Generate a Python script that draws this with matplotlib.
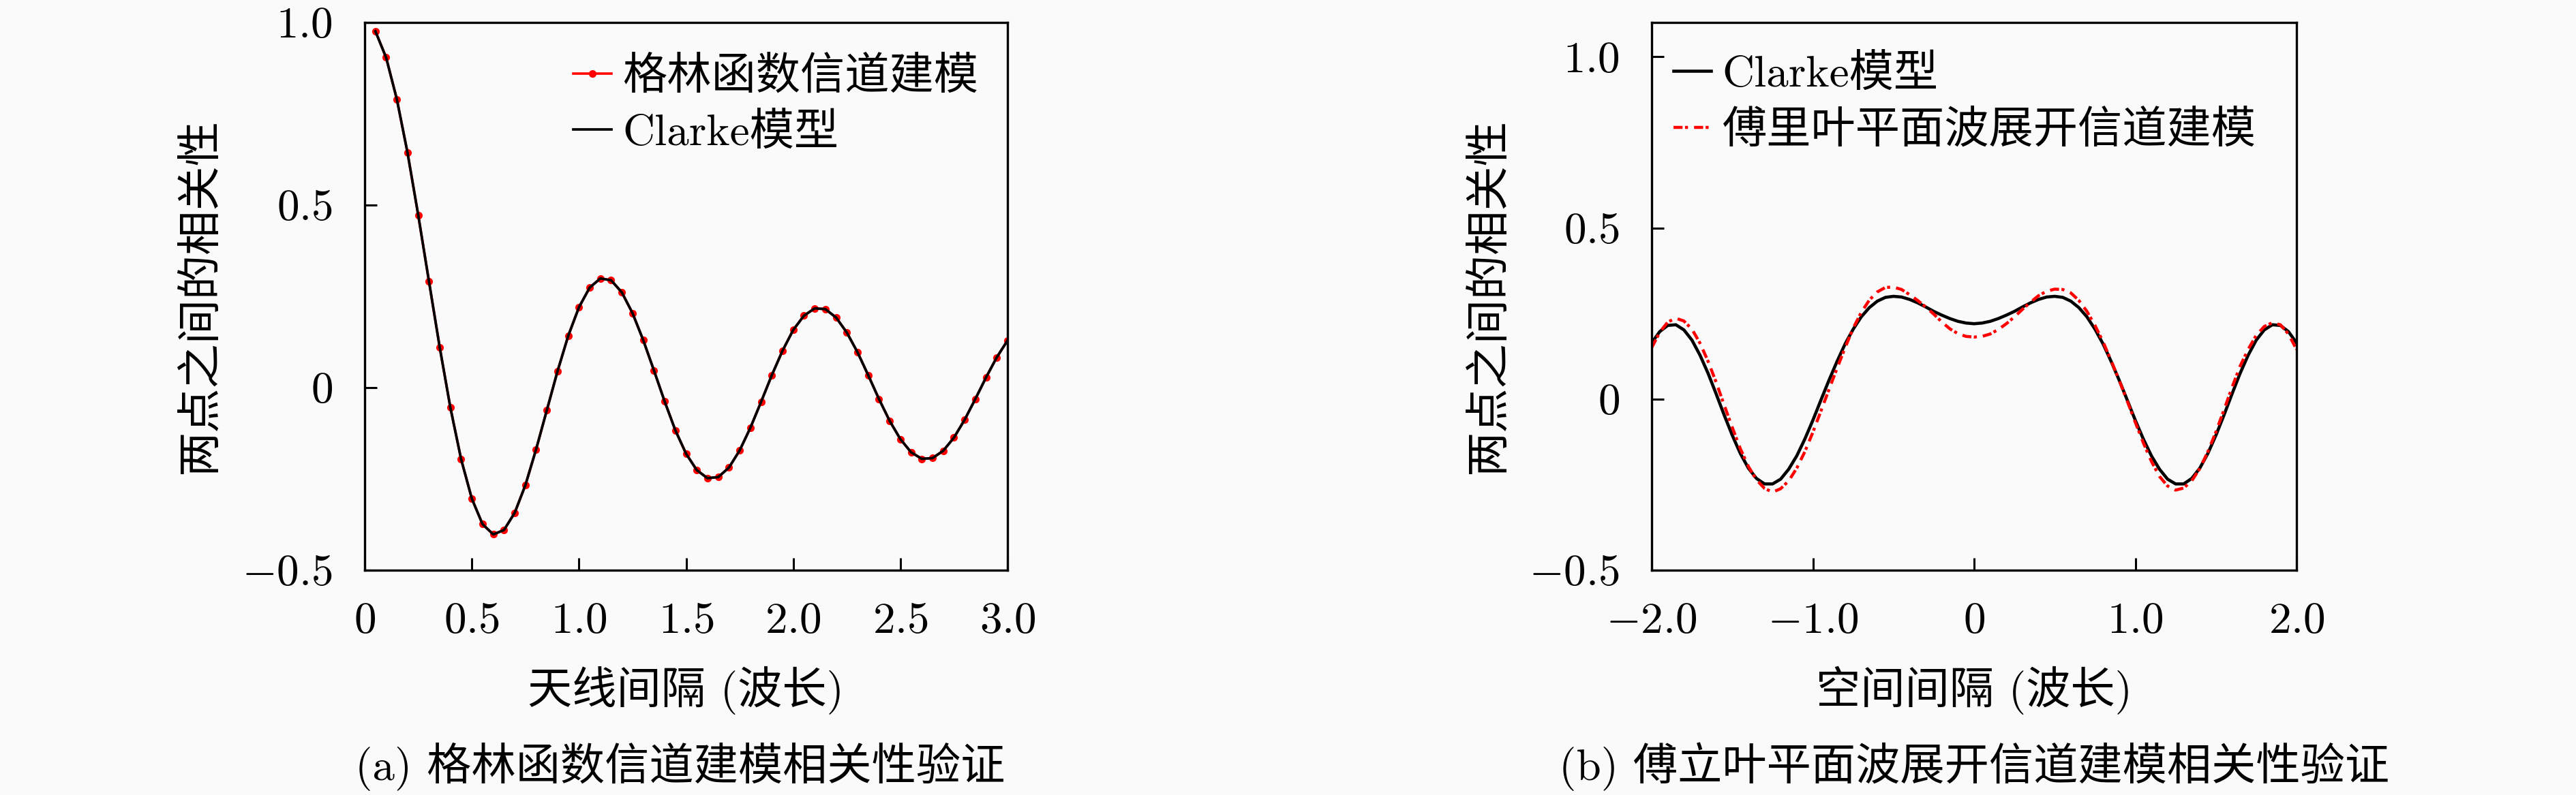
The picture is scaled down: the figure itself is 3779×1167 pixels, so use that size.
import matplotlib
matplotlib.use("Agg")
import matplotlib.pyplot as plt

# ── DATA ──────────────────────────────────────────────────────────────────────

# (a) antenna spacing in wavelengths, sampled every 0.05
spacing_a = [0.05, 0.10, 0.15, 0.20, 0.25, 0.30, 0.35, 0.40, 0.45, 0.50,
             0.55, 0.60, 0.65, 0.70, 0.75, 0.80, 0.85, 0.90, 0.95, 1.00,
             1.05, 1.10, 1.15, 1.20, 1.25, 1.30, 1.35, 1.40, 1.45, 1.50,
             1.55, 1.60, 1.65, 1.70, 1.75, 1.80, 1.85, 1.90, 1.95, 2.00,
             2.05, 2.10, 2.15, 2.20, 2.25, 2.30, 2.35, 2.40, 2.45, 2.50,
             2.55, 2.60, 2.65, 2.70, 2.75, 2.80, 2.85, 2.90, 2.95, 3.00]

clarke_a = [0.976, 0.904, 0.790, 0.643, 0.472, 0.291, 0.111, -0.055, -0.196, -0.304,
            -0.374, -0.402, -0.390, -0.343, -0.267, -0.169, -0.062, 0.045, 0.142, 0.220,
            0.274, 0.299, 0.294, 0.261, 0.204, 0.130, 0.047, -0.038, -0.117, -0.181,
            -0.226, -0.248, -0.245, -0.219, -0.172, -0.110, -0.039, 0.034, 0.101, 0.158,
            0.197, 0.217, 0.215, 0.192, 0.151, 0.097, 0.034, -0.031, -0.091, -0.141,
            -0.177, -0.195, -0.193, -0.173, -0.137, -0.088, -0.031, 0.028, 0.083, 0.129]

# Green's-function markers sit right on the Clarke curve
green_a = list(clarke_a)

# (b) spatial separation in wavelengths, -2 .. 2 every 0.05
spacing_b = [-2.00, -1.95, -1.90, -1.85, -1.80, -1.75, -1.70, -1.65, -1.60, -1.55,
             -1.50, -1.45, -1.40, -1.35, -1.30, -1.25, -1.20, -1.15, -1.10, -1.05,
             -1.00, -0.95, -0.90, -0.85, -0.80, -0.75, -0.70, -0.65, -0.60, -0.55,
             -0.50, -0.45, -0.40, -0.35, -0.30, -0.25, -0.20, -0.15, -0.10, -0.05,
             0.00,
             0.05, 0.10, 0.15, 0.20, 0.25, 0.30, 0.35, 0.40, 0.45, 0.50,
             0.55, 0.60, 0.65, 0.70, 0.75, 0.80, 0.85, 0.90, 0.95, 1.00,
             1.05, 1.10, 1.15, 1.20, 1.25, 1.30, 1.35, 1.40, 1.45, 1.50,
             1.55, 1.60, 1.65, 1.70, 1.75, 1.80, 1.85, 1.90, 1.95, 2.00]

clarke_b = [0.164, 0.197, 0.215, 0.217, 0.202, 0.172, 0.128, 0.075, 0.015, -0.047,
            -0.106, -0.159, -0.202, -0.232, -0.248, -0.248, -0.234, -0.205, -0.166, -0.117,
            -0.062, -0.003, 0.055, 0.110, 0.161, 0.204, 0.240, 0.267, 0.286, 0.297,
            0.300, 0.298, 0.291, 0.281, 0.269, 0.256, 0.245, 0.235, 0.227, 0.222,
            0.220,
            0.222, 0.227, 0.235, 0.245, 0.256, 0.269, 0.281, 0.291, 0.298, 0.300,
            0.297, 0.286, 0.267, 0.240, 0.204, 0.161, 0.110, 0.055, -0.003, -0.062,
            -0.117, -0.166, -0.205, -0.234, -0.248, -0.248, -0.232, -0.202, -0.159, -0.106,
            -0.047, 0.015, 0.075, 0.128, 0.172, 0.202, 0.217, 0.215, 0.197, 0.164]

fourier_b = [0.150, 0.195, 0.225, 0.236, 0.228, 0.204, 0.163, 0.110, 0.049, -0.018,
             -0.083, -0.145, -0.197, -0.236, -0.261, -0.272, -0.262, -0.239, -0.202, -0.154,
             -0.097, -0.035, 0.028, 0.090, 0.150, 0.207, 0.253, 0.289, 0.313, 0.326,
             0.327, 0.320, 0.305, 0.288, 0.269, 0.248, 0.225, 0.205, 0.191, 0.183,
             0.181,
             0.183, 0.190, 0.203, 0.220, 0.240, 0.262, 0.283, 0.302, 0.315, 0.321,
             0.320, 0.310, 0.288, 0.256, 0.215, 0.167, 0.112, 0.055, -0.006, -0.068,
             -0.128, -0.182, -0.226, -0.254, -0.266, -0.260, -0.239, -0.203, -0.154, -0.096,
             -0.032, 0.034, 0.096, 0.145, 0.186, 0.212, 0.223, 0.217, 0.190, 0.145]

xticks_a = [0, 0.5, 1.0, 1.5, 2.0, 2.5, 3.0]
xticklabels_a = ["$0$", "$0.5$", "$1.0$", "$1.5$", "$2.0$", "$2.5$", "$3.0$"]
xticks_b = [-2.0, -1.0, 0, 1.0, 2.0]
xticklabels_b = ["$-2.0$", "$-1.0$", "$0$", "$1.0$", "$2.0$"]
yticks = [-0.5, 0, 0.5, 1.0]
yticklabels = ["$-0.5$", "$0$", "$0.5$", "$1.0$"]

# ── STYLE ─────────────────────────────────────────────────────────────────────

FS = 47
BG = "#fafafa"
TEXT_FONT = ["cmr10", "Noto Sans CJK SC", "DejaVu Sans"]

plt.rcParams["mathtext.fontset"] = "cm"
plt.rcParams["font.family"] = TEXT_FONT
plt.rcParams["axes.unicode_minus"] = True

W, H = 3780, 1167
fig = plt.figure(figsize=(W / 100, H / 100), dpi=100, facecolor=BG)


def px_axes(left, right, top, bottom):
    return fig.add_axes([left / W, 1 - bottom / H, (right - left) / W,
                         (bottom - top) / H])


def style_axes(ax, xticks, xlabels):
    ax.set_facecolor(BG)
    for sp in ax.spines.values():
        sp.set_linewidth(2.4)
    ax.set_xticks(xticks)
    ax.set_xticklabels(xlabels, fontsize=FS)
    ax.set_yticks(yticks)
    ax.set_yticklabels(yticklabels, fontsize=FS)
    ax.tick_params(direction="in", length=13, width=2.2,
                   top=False, right=False)
    ax.tick_params(axis="x", pad=34)
    ax.tick_params(axis="y", pad=34)


# ── Panel (a) ────────────────────────────────────────────────────────────────
ax1 = px_axes(535, 1478, 33, 837)
ax1.plot(spacing_a, green_a, color="#ff0000", linewidth=2.6, marker="o",
         markersize=7, label="格林函数信道建模")
ax1.plot(spacing_a, clarke_a, color="black", linewidth=2.7,
         label="Clarke模型")
ax1.set_xlim(0, 3.0)
ax1.set_ylim(-0.5, 1.0)
style_axes(ax1, xticks_a, xticklabels_a)
ax1.set_xlabel("天线间隔 (波长)", fontsize=FS, va="center")
ax1.xaxis.set_label_coords(0.5, (837 - 1013) / 804)
ax1.set_ylabel("两点之间的相关性", fontsize=FS, va="center")
ax1.yaxis.set_label_coords((295 - 535) / 943, 0.5)
ax1.legend(loc="upper right", bbox_to_anchor=((1435 - 535) / 943, (837 - 83) / 804),
           frameon=False, fontsize=FS, borderpad=0, borderaxespad=0,
           handlelength=0.85, handletextpad=0.25, labelspacing=0.34,
           numpoints=1)

# ── Panel (b) ────────────────────────────────────────────────────────────────
ax2 = px_axes(2423, 3369, 33, 837)
ax2.plot(spacing_b, clarke_b, color="black", linewidth=3.3, label="Clarke模型")
ax2.plot(spacing_b, fourier_b, color="#ff0000", linewidth=3.2,
         linestyle=(0, (3, 0.8, 1, 2.0)), label="傅里叶平面波展开信道建模")
ax2.set_xlim(-2.0, 2.0)
ax2.set_ylim(-0.5, 1.1)
style_axes(ax2, xticks_b, xticklabels_b)
ax2.set_xlabel("空间间隔 (波长)", fontsize=FS, va="center")
ax2.xaxis.set_label_coords(0.5, (837 - 1013) / 804)
ax2.set_ylabel("两点之间的相关性", fontsize=FS, va="center")
ax2.yaxis.set_label_coords((2185 - 2423) / 946, 0.5)
ax2.legend(loc="upper left", bbox_to_anchor=((2455 - 2423) / 946, (837 - 80) / 804),
           frameon=False, fontsize=FS, borderpad=0, borderaxespad=0,
           handlelength=0.85, handletextpad=0.25, labelspacing=0.34)

# ── Captions ─────────────────────────────────────────────────────────────────
fig.text(998 / W, 1 - 1125 / H, "(a) 格林函数信道建模相关性验证",
         fontsize=FS, ha="center", va="center")
fig.text(2896 / W, 1 - 1125 / H, "(b) 傅立叶平面波展开信道建模相关性验证",
         fontsize=FS, ha="center", va="center")

fig.savefig("out.png", dpi=100, facecolor=BG)
